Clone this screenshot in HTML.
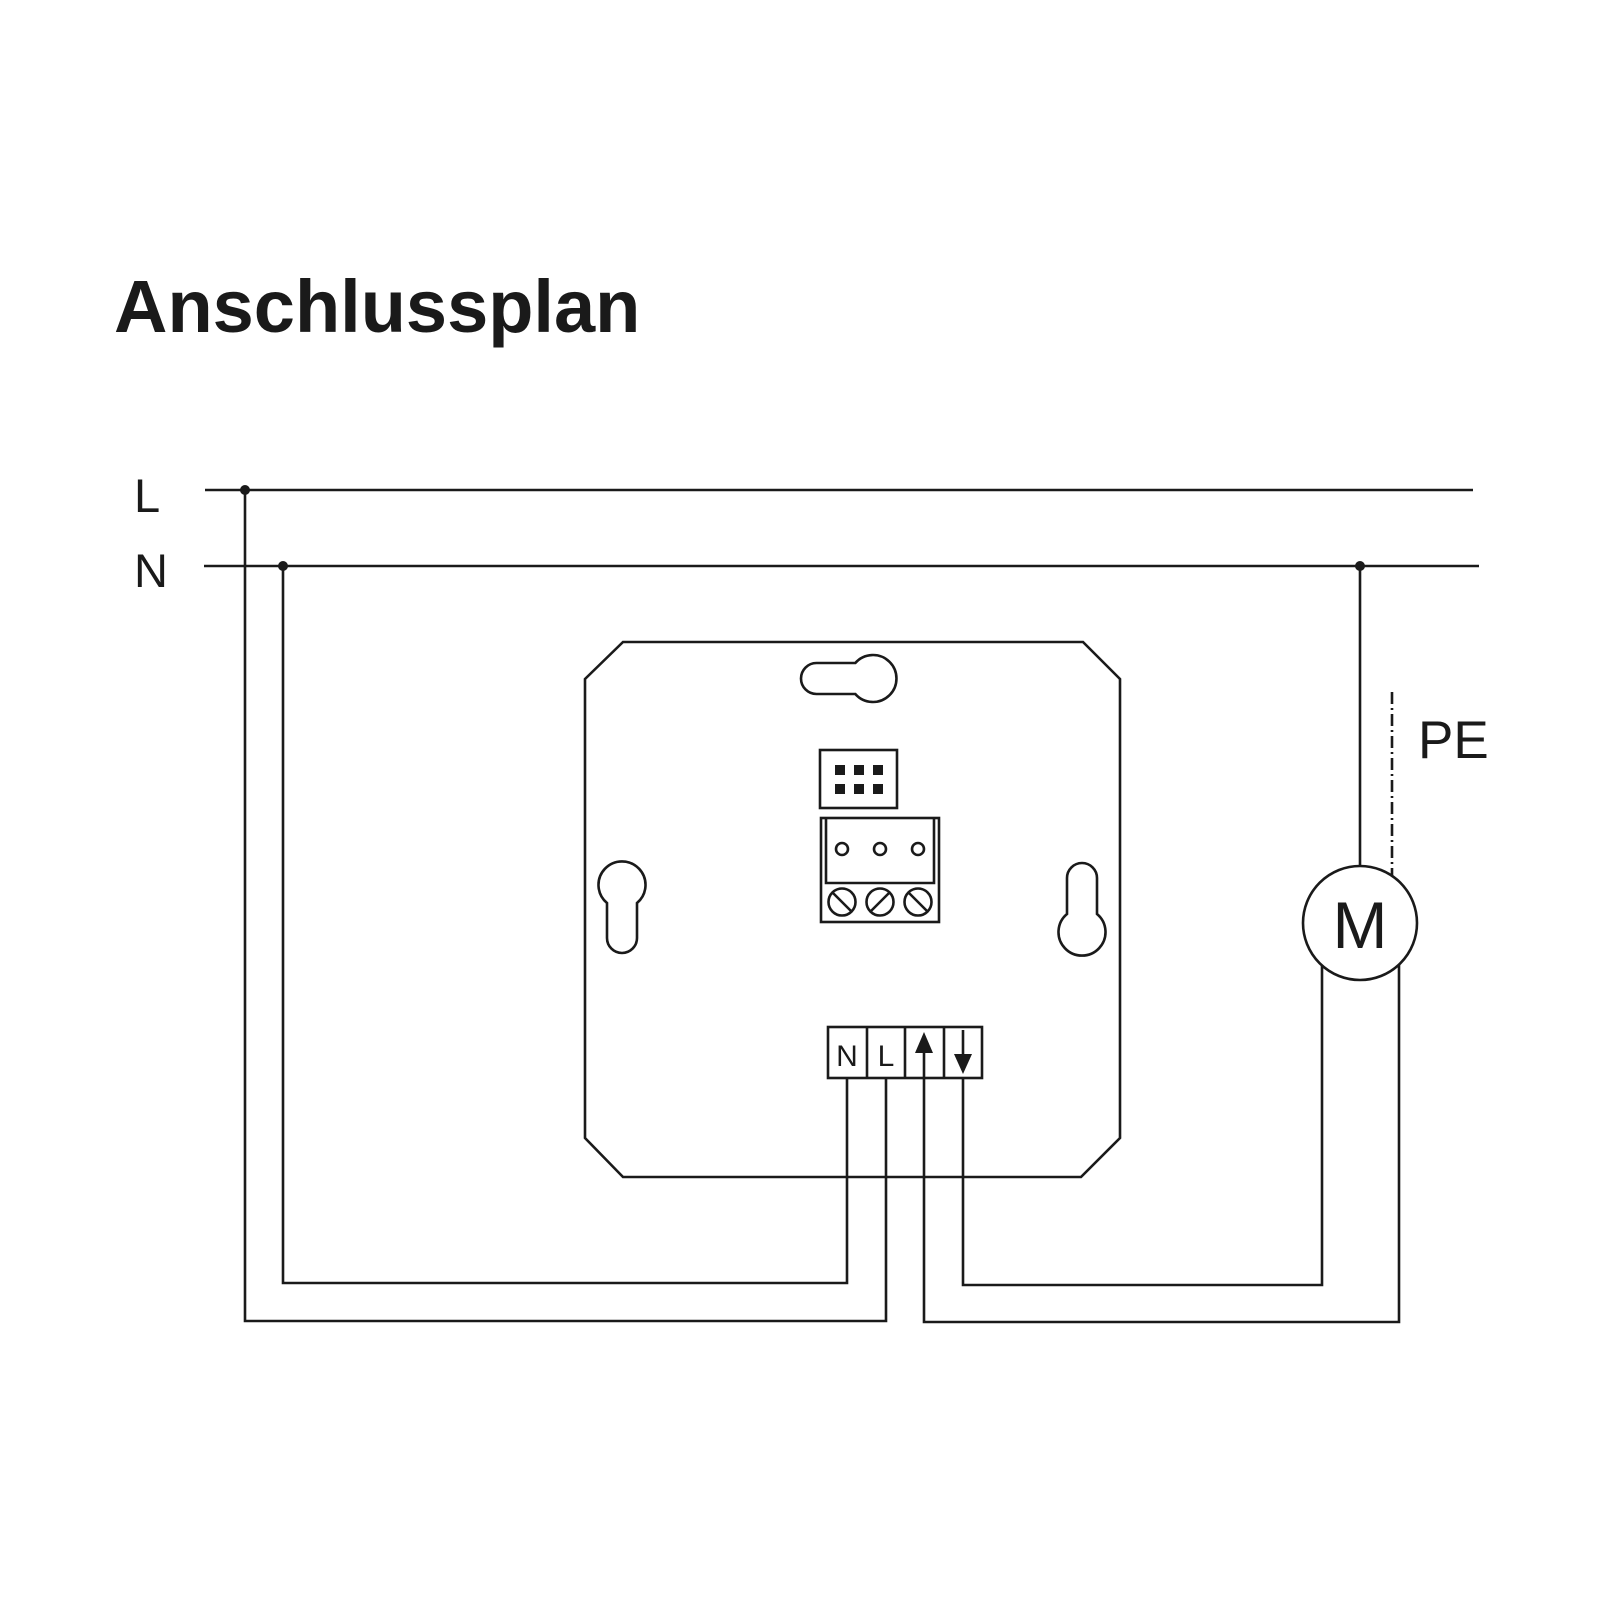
<!DOCTYPE html>
<html><head><meta charset="utf-8"><style>
html,body{margin:0;padding:0;background:#fff;}
svg{display:block;}
</style></head><body>
<svg width="1600" height="1600" viewBox="0 0 1600 1600" xmlns="http://www.w3.org/2000/svg">
<rect width="1600" height="1600" fill="#fff"/>
<text x="114" y="332" font-family="Liberation Sans, sans-serif" font-weight="bold" font-size="74" fill="#1a1a1a">Anschlussplan</text>
<g font-family="Liberation Sans, sans-serif" fill="#1a1a1a">
<text x="134" y="512" font-size="47">L</text>
<text x="134" y="587" font-size="47">N</text>
<text x="1418" y="758" font-size="53">PE</text>
<text x="1360" y="948" font-size="66" text-anchor="middle">M</text>
</g>
<g stroke="#1a1a1a" stroke-width="2.6" fill="none">
<line x1="205" y1="490" x2="1473" y2="490"/>
<line x1="204" y1="566" x2="1479" y2="566"/>
<polyline points="245,490 245,1321 886,1321 886,1078"/>
<polyline points="283,566 283,1283 847,1283 847,1078"/>
<polyline points="963,1078 963,1285 1322,1285 1322,965"/>
<polyline points="924,1078 924,1322 1399,1322 1399,965"/>
<line x1="1360" y1="566" x2="1360" y2="866"/>
<line x1="1392" y1="692" x2="1392" y2="876" stroke-dasharray="12 4 2 4"/>
<circle cx="1360" cy="923" r="57"/>
<polygon points="623,642 1083,642 1120,679 1120,1138 1081,1177 623,1177 585,1138 585,679"/>
<path d="M855.3,663 L816.5,663 A15.5,15.5 0 0 0 816.5,694 L855.3,694 A23.5,23.5 0 1 0 855.3,663 Z"/>
<path d="M607,903 A23.5,23.5 0 1 1 637,903 L637,938 A15,15 0 0 1 607,938 Z"/>
<path d="M1067,914 L1067,878 A15,15 0 0 1 1097,878 L1097,914 A23.5,23.5 0 1 1 1067,914 Z"/>
<rect x="820" y="750" width="77" height="58"/>
<rect x="821" y="818" width="118" height="104"/>
<polyline points="826,818 826,883 934,883 934,818"/>
<circle cx="842" cy="849" r="6"/>
<circle cx="880" cy="849" r="6"/>
<circle cx="918" cy="849" r="6"/>
<circle cx="842" cy="902" r="13.5"/>
<circle cx="880" cy="902" r="13.5"/>
<circle cx="918" cy="902" r="13.5"/>
<line x1="833" y1="893" x2="851" y2="911"/>
<line x1="889" y1="893" x2="871" y2="911"/>
<line x1="909" y1="893" x2="927" y2="911"/>
<rect x="828" y="1027" width="154" height="51"/>
<line x1="867" y1="1027" x2="867" y2="1078"/>
<line x1="905" y1="1027" x2="905" y2="1078"/>
<line x1="944" y1="1027" x2="944" y2="1078"/>
<line x1="924" y1="1050" x2="924" y2="1078"/>
<line x1="963" y1="1030" x2="963" y2="1058"/>
</g>
<g fill="#1a1a1a">
<circle cx="245" cy="490" r="5"/>
<circle cx="283" cy="566" r="5"/>
<circle cx="1360" cy="566" r="5"/>
<rect x="835" y="765" width="10" height="10"/><rect x="854" y="765" width="10" height="10"/><rect x="873" y="765" width="10" height="10"/>
<rect x="835" y="784" width="10" height="10"/><rect x="854" y="784" width="10" height="10"/><rect x="873" y="784" width="10" height="10"/>
<polygon points="924,1032 933,1053 915,1053"/>
<polygon points="963,1074 972,1054 954,1054"/>
<text x="847" y="1066" font-family="Liberation Sans, sans-serif" font-size="30" text-anchor="middle">N</text>
<text x="886" y="1066" font-family="Liberation Sans, sans-serif" font-size="30" text-anchor="middle">L</text>
</g>
</svg>
</body></html>
